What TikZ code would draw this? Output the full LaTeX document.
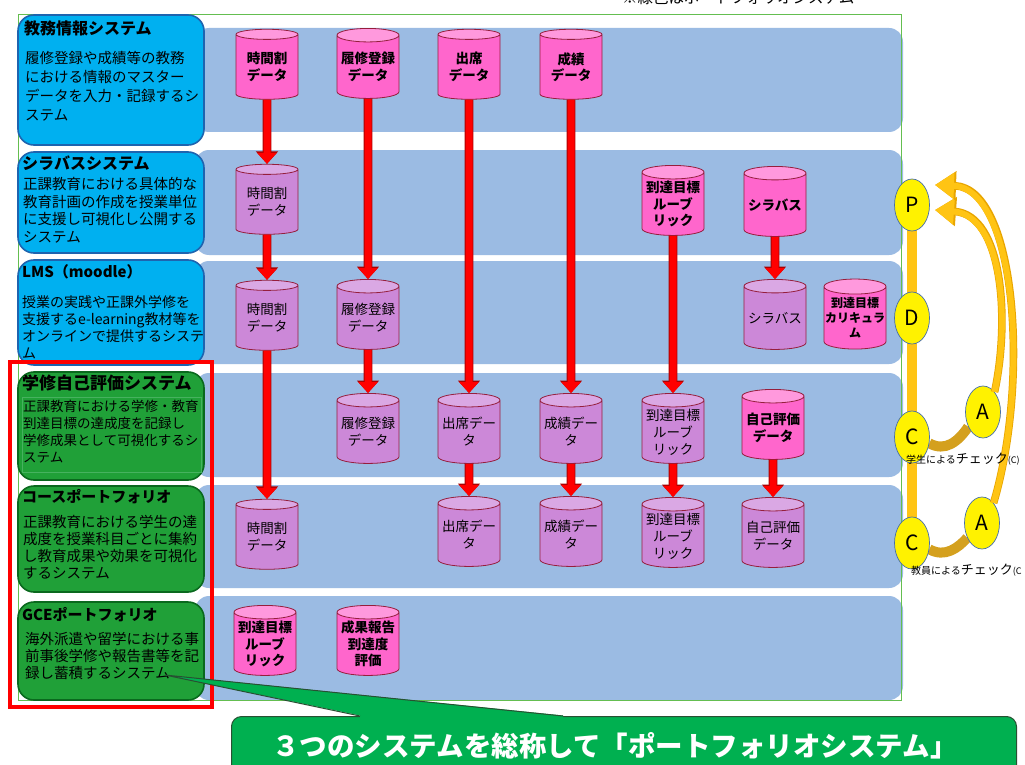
\documentclass[tikz,border=0pt]{standalone}
\usepackage{fontspec}
\setmainfont{Noto Sans CJK JP}
\usetikzlibrary{shapes.geometric,arrows.meta,backgrounds}
\definecolor{bandc}{RGB}{155,187,227}
\definecolor{sysblue}{RGB}{0,176,240}
\definecolor{sysblueb}{RGB}{30,100,175}
\definecolor{sysgreen}{RGB}{32,160,56}
\definecolor{sysgreenb}{RGB}{10,105,30}
\definecolor{innerg}{RGB}{70,178,95}
\definecolor{magbody}{RGB}{255,102,204}
\definecolor{magtop}{RGB}{255,153,221}
\definecolor{purbody}{RGB}{204,136,216}
\definecolor{purtop}{RGB}{218,168,228}
\definecolor{cylb}{RGB}{150,30,60}
\definecolor{arrred}{RGB}{255,0,0}
\definecolor{arrdark}{RGB}{170,0,0}
\definecolor{frameg}{RGB}{100,190,80}
\definecolor{callg}{RGB}{0,176,80}
\definecolor{callb}{RGB}{40,80,50}
\definecolor{pdcaor}{RGB}{255,196,20}
\definecolor{pdcaedge}{RGB}{232,165,0}
\definecolor{pdcadark}{RGB}{212,160,30}
\definecolor{ellb}{RGB}{70,110,170}
\begin{document}
\begin{tikzpicture}[x=1pt,y=-1pt,
  band/.style={fill=bandc, rounded corners=14pt},
  sysbox/.style={rounded corners=16pt, line width=1.6pt, inner sep=0pt, minimum width=186pt},
  bluebox/.style={sysbox, draw=sysblueb, fill=sysblue},
  greenbox/.style={sysbox, draw=sysgreenb, fill=sysgreen},
  ttl/.style={anchor=west, inner sep=0pt, font=\bfseries\fontsize{16}{16}\selectfont},
  desc/.style={anchor=north west, inner sep=0pt, align=left},
  cyl/.style={cylinder, shape border rotate=90, aspect=0.25, minimum width=62pt, minimum height=70pt, inner sep=0pt, draw=cylb, line width=0.8pt, cylinder uses custom fill, align=center},
  magc/.style={cyl, cylinder body fill=magbody, cylinder end fill=magtop, font=\bfseries\fontsize{13.5}{16.5}\selectfont},
  purc/.style={cyl, cylinder body fill=purbody, cylinder end fill=purtop, font=\fontsize{13.5}{17}\selectfont},
  flow/.style={draw=arrred, line width=7pt, -{Triangle[width=19pt,length=11pt]},
    preaction={draw=arrdark, line width=8.6pt, -{Triangle[width=21.5pt,length=12.5pt]}}},
  pdca/.style={ellipse, draw=ellb, line width=0.7pt, fill=yellow, minimum width=35pt, minimum height=52pt, inner sep=0pt, font=\fontsize{21}{21}\selectfont},
  lightarrow/.style={draw=pdcaor, line width=6pt, -{Triangle[width=25pt,length=19pt]},
    preaction={draw=pdcaedge, line width=7.6pt, -{Triangle[width=28pt,length=21pt]}}},
]
\useasboundingbox (0,0) rectangle (1025,765);
\clip (0,0) rectangle (1025,765);
\begin{pgfonlayer}{background}
\fill[white] (0,0) rectangle (1025,765);
\end{pgfonlayer}

% note at top (cut off at the page edge, as in the reference)
\node[anchor=south west, inner sep=0pt, font=\fontsize{15.5}{15.5}\selectfont] (note) at (622,5) {※緑色はポートフォリオシステム};

% bands
\fill[band] (195,28) rectangle (903,132);
\fill[band] (195,150) rectangle (903,255);
\fill[band] (195,261) rectangle (903,364);
\fill[band] (195,373) rectangle (903,477);
\fill[band] (195,485) rectangle (903,588);
\fill[band] (195,596) rectangle (903,700);

% frame
\draw[frameg, line width=1pt] (18,15) rectangle (901,700);

% left system boxes
\node[bluebox, minimum height=130pt] (box1) at (111,80) {};
\node[bluebox, minimum height=101pt] (box2) at (111,202.5) {};
\node[bluebox, minimum height=105pt] (box3) at (111,312.5) {};
\node[greenbox, minimum height=108pt] (box4) at (111,426) {};
\node[greenbox, minimum height=106pt] (box5) at (111,539) {};
\node[greenbox, minimum height=98pt] (box6) at (111,651) {};
\draw[innerg, line width=0.6pt] (22,397) rectangle (201,472);

\node[ttl] (t1) at (24,28) {教務情報システム};
\node[ttl] (t2) at (22,163) {シラバスシステム};
\node[ttl, font=\bfseries\fontsize{15}{15}\selectfont] (t3) at (22,272) {LMS（moodle）};
\node[ttl, font=\bfseries\fontsize{17}{17}\selectfont] (t4) at (22,383) {学修自己評価システム};
\node[ttl, font=\bfseries\fontsize{15}{15}\selectfont] (t5) at (22,497) {コースポートフォリオ};
\node[ttl, font=\bfseries\fontsize{15}{15}\selectfont] (t6) at (22,615) {GCEポートフォリオ};

\node[desc, font=\fontsize{14.5}{19}\selectfont] (d1) at (25,51) {履修登録や成績等の教務\\における情報のマスター\\データを入力・記録するシ\\ステム};
\node[desc, font=\fontsize{14.5}{17.5}\selectfont] (d2) at (23,177.5) {正課教育における具体的な\\教育計画の作成を授業単位\\に支援し可視化し公開する\\システム};
\node[desc, font=\fontsize{14}{17}\selectfont] (d3) at (22,295) {授業の実践や正課外学修を\\支援するe-learning教材等を\\オンラインで提供するシステ\\ム};
\node[desc, font=\fontsize{13.5}{17}\selectfont] (d4) at (23,400) {正課教育における学修・教育\\到達目標の達成度を記録し\\学修成果として可視化するシ\\ステム};
\node[desc, font=\fontsize{14.5}{17}\selectfont] (d5) at (23,515.5) {正課教育における学生の達\\成度を授業科目ごとに集約\\し教育成果や効果を可視化\\するシステム};
\node[desc, font=\fontsize{14.5}{17}\selectfont] (d6) at (25,632.5) {海外派遣や留学における事\\前事後学修や報告書等を記\\録し蓄積するシステム};

% cylinders row 1
\node[magc] (A1) at (267,67) {時間割\\データ};
\node[magc] (A2) at (368,67) {履修登録\\データ};
\node[magc] (A3) at (469,67) {出席\\データ};
\node[magc] (A4) at (571,67) {成績\\データ};
% row 2
\node[purc] (B1) at (267,202) {時間割\\データ};
\node[magc] (B5) at (673,204) {到達目標\\ルーブ\\リック};
\node[magc] (B6) at (775,205) {シラバス};
% row 3
\node[purc] (C1) at (267,318) {時間割\\データ};
\node[purc] (C2) at (368,318) {履修登録\\データ};
\node[purc] (C6) at (775,318) {シラバス};
\node[magc, font=\bfseries\fontsize{12}{15}\selectfont] (C7) at (855,318) {到達目標\\カリキュラ\\ム};
% row 4
\node[purc] (D2) at (368,432) {履修登録\\データ};
\node[purc] (D3) at (469,432) {出席デー\\タ};
\node[purc] (D4) at (571,432) {成績デー\\タ};
\node[purc] (D5) at (673,432) {到達目標\\ルーブ\\リック};
\node[magc] (D6) at (773,428) {自己評価\\データ};
% row 5
\node[purc] (E1) at (267,537) {時間割\\データ};
\node[purc] (E3) at (469,535) {出席デー\\タ};
\node[purc] (E4) at (571,535) {成績デー\\タ};
\node[purc] (E5) at (673,536) {到達目標\\ルーブ\\リック};
\node[purc] (E6) at (773,536) {自己評価\\データ};
% row 6
\node[magc] (F1) at (265,644) {到達目標\\ルーブ\\リック};
\node[magc] (F2) at (368,644) {成果報告\\到達度\\評価};

% flows
\draw[flow] (A1.south) -- (B1.north);
\draw[flow] (B1.south) -- (C1.north);
\draw[flow] (C1.south) -- (E1.north);
\draw[flow] (A2.south) -- (C2.north);
\draw[flow] (C2.south) -- (D2.north);
\draw[flow] (A3.south) -- (D3.north);
\draw[flow] (D3.south) -- (E3.north);
\draw[flow] (A4.south) -- (D4.north);
\draw[flow] (D4.south) -- (E4.north);
\draw[flow] (B5.south) -- (D5.north);
\draw[flow] (D5.south) -- (E5.north);
\draw[flow] (B6.south) -- (C6.north);
\draw[flow] (D6.south) -- (E6.north);

% red frame
\draw[red, line width=4.5pt] (10,362) rectangle (212,707);

% PDCA
\node[pdca] (P) at (912,205) {P};
\node[pdca] (D) at (912,318) {D};
\node[pdca] (Ca) at (912,437) {C};
\node[pdca] (Cb) at (912,543) {C};
\node[pdca] (Aa) at (983,412) {A};
\node[pdca] (Ab) at (982,523) {A};
\begin{pgfonlayer}{background}
\draw[pdcaor, line width=10pt] (P.center) -- (Cb.center);
\draw[pdcadark, line width=10pt] (Ca.-20) .. controls (945,452) and (958,442) .. (Aa.225);
\draw[pdcadark, line width=10pt] (Cb.-20) .. controls (945,558) and (958,548) .. (Ab.225);
\end{pgfonlayer}
\coordinate (tipin) at (935,210);
\coordinate (tipout) at (935,185);
\draw[lightarrow] (Aa.60) .. controls (1010,320) and (1003,215) .. (tipin);
\draw[lightarrow] (Ab.60) .. controls (1030,380) and (1016,188) .. (tipout);

\node[anchor=west, inner sep=0pt] (lab1) at (906,459) {{\fontsize{10}{10}\selectfont 学生による}{\fontsize{13}{13}\selectfont チェック}{\fontsize{9}{9}\selectfont (C)}};
\node[anchor=west, inner sep=0pt] (lab2) at (911,570) {{\fontsize{10}{10}\selectfont 教員による}{\fontsize{13}{13}\selectfont チェック}{\fontsize{9}{9}\selectfont (C}};

% callout
\node[draw=callb, fill=callg, rounded corners=10pt, line width=1pt, minimum width=785pt, minimum height=74pt, anchor=north west, inner sep=0pt] (callout) at (231,716) {};
\coordinate (ptip) at (165,675);
\fill[callg] (360,715.5) -- (ptip) -- (563,715.5) -- (563,718) -- (360,718) -- cycle;
\draw[callb, line width=1pt] (360,716) -- (ptip) -- (563,716);
\node[font=\bfseries\fontsize{27.5}{27.5}\selectfont, text=white, inner sep=0pt] (calltext) at (615,746) {３つのシステムを総称して「ポートフォリオシステム」};
\end{tikzpicture}
\end{document}
